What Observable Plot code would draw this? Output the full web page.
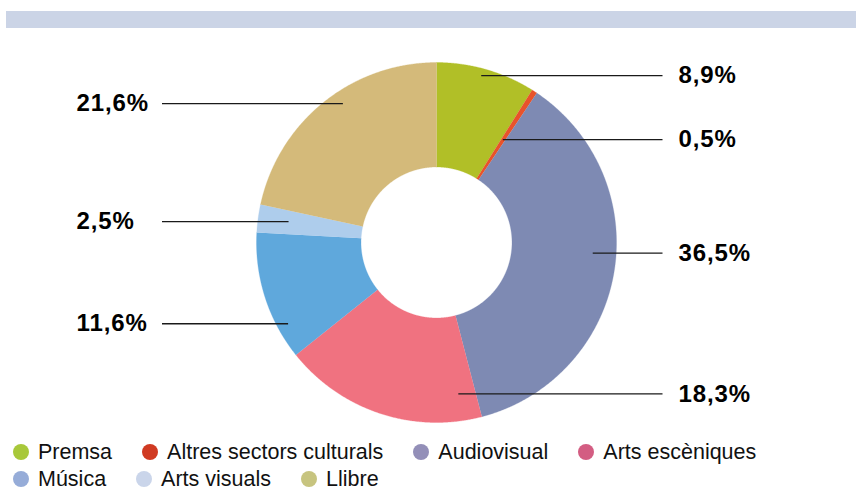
<!DOCTYPE html>
<html>
<head>
<meta charset="utf-8">
<script src="https://cdn.jsdelivr.net/npm/d3@7"></script>
<script src="https://cdn.jsdelivr.net/npm/@observablehq/plot@0.6"></script>
<style>
  html, body { margin: 0; padding: 0; background: #fff; }
  body { width: 856px; height: 492px; overflow: hidden; font-family: "Liberation Sans", Arial, Helvetica, sans-serif; }
  .band { margin: 11px 0 0 6px; width: 850px; height: 17px; background: #cbd4e6; }
  #chart svg { display: block; }
  #chart g[aria-label="text"] text { letter-spacing: 0.9px; }
  .legend { display: flex; flex-wrap: wrap; row-gap: 7px; width: 800px; padding: 5px 0 0 13px; font-size: 21.5px; line-height: 20px; color: #111; }
  .legend .item { display: flex; align-items: center; height: 20px; margin-right: 30px; white-space: nowrap; }
  .legend .sw { width: 16px; height: 16px; border-radius: 50%; margin-right: 9px; flex: none; }
</style>
</head>
<body>
<div class="band"></div>
<div id="chart"></div>
<div class="legend" id="legend"></div>
<script>
// ---- data ----
const categories = ["Premsa", "Altres sectors culturals", "Audiovisual", "Arts escèniques", "Música", "Arts visuals", "Llibre"];
const shares = [8.9, 0.5, 36.5, 18.3, 11.6, 2.5, 21.6];
const shareLabels = ["8,9%", "0,5%", "36,5%", "18,3%", "11,6%", "2,5%", "21,6%"];

// ---- styles / layout ----
const sliceColors = ["#b1bf27", "#e8532b", "#7e8ab3", "#f07280", "#5fa8dc", "#aecdec", "#d4ba7a"];
const legendColors = ["#a8c83a", "#d03a22", "#938fb8", "#d35d82", "#96acd8", "#cad5ea", "#c7c47f"];
// leader line anchor inside each slice: [angle in degrees clockwise from top, radius fraction]
const leaderAnchors = [[15.0, 0.96], [32.8, 0.68], [93.9, 0.87], [171.8, 0.85], [241.3, 0.94], [278, 0.83], [326, 0.93]];

const W = 856, H = 409, CX = 436, CY = 214, RPX = 180;
const R_IN = 75.5 / RPX;
const lineEndRight = (662 - CX) / RPX, lineEndLeft = (161.5 - CX) / RPX;
const textRight = (678 - CX) / RPX, textLeft = (76 - CX) / RPX;

// ---- geometry (via d3.pie) ----
const arcs = d3.pie().sort(null).value(d => d)(shares);
const slicePts = [];
arcs.forEach((a, i) => {
  const n = Math.max(2, Math.ceil((a.endAngle - a.startAngle) / 0.005));
  for (let k = 0; k <= n; k++) {
    const t = a.startAngle + (a.endAngle - a.startAngle) * k / n;
    slicePts.push({name: categories[i], x: Math.sin(t), y: Math.cos(t)});
  }
  for (let k = n; k >= 0; k--) {
    const t = a.startAngle + (a.endAngle - a.startAngle) * k / n;
    slicePts.push({name: categories[i], x: R_IN * Math.sin(t), y: R_IN * Math.cos(t)});
  }
});

const labelRows = categories.map((c, i) => {
  const [deg, r] = leaderAnchors[i];
  const t = deg * Math.PI / 180;
  const right = deg < 180;
  const ax = r * Math.sin(t), ay = r * Math.cos(t);
  return {name: c, ax, ay, ex: right ? lineEndRight : lineEndLeft, tx: right ? textRight : textLeft, text: shareLabels[i]};
});

const chart = Plot.plot({
  width: W,
  height: H,
  margin: 0,
  style: {fontFamily: '"Liberation Sans", Arial, Helvetica, sans-serif', background: "white"},
  x: {domain: [-CX / RPX, (W - CX) / RPX], axis: null},
  y: {domain: [-(H - CY) / RPX, CY / RPX], axis: null},
  color: {domain: categories, range: sliceColors},
  marks: [
    Plot.line(slicePts, {x: "x", y: "y", z: "name", fill: "name", stroke: "name", strokeWidth: 0.3, curve: "linear"}),
    Plot.link(labelRows, {x1: "ax", y1: "ay", x2: "ex", y2: "ay", stroke: "#1a1a1a", strokeWidth: 1.3}),
    Plot.text(labelRows, {x: "tx", y: "ay", text: "text", textAnchor: "start", fontSize: 24, fontWeight: "bold", fill: "#000"})
  ]
});
document.getElementById("chart").appendChild(chart);

const legend = document.getElementById("legend");
categories.forEach((c, i) => {
  const item = document.createElement("div");
  item.className = "item";
  const sw = document.createElement("span");
  sw.className = "sw";
  sw.style.background = legendColors[i];
  const tx = document.createElement("span");
  tx.textContent = c;
  item.appendChild(sw);
  item.appendChild(tx);
  legend.appendChild(item);
});
</script>
</body>
</html>
